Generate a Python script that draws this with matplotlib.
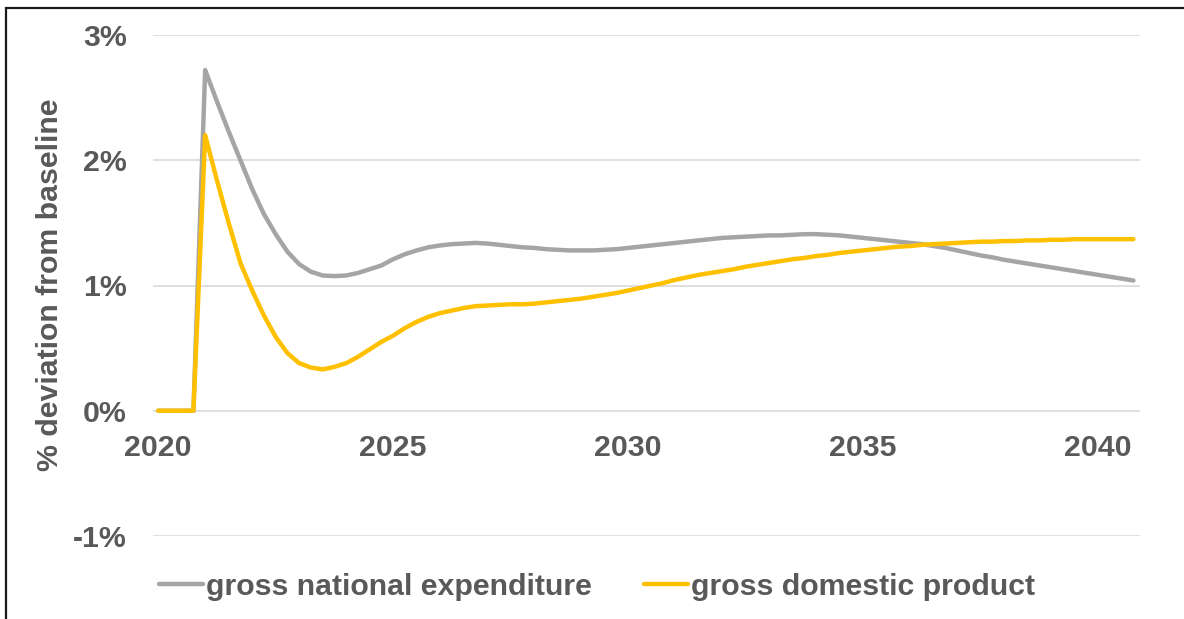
import numpy as np
import matplotlib
matplotlib.use("Agg")
import matplotlib.pyplot as plt
from matplotlib.patches import Rectangle
from matplotlib.ticker import FuncFormatter

# quarterly observations, 2020Q1 .. 2040Q4
start_year = 2020
gne = [
    0.00, 0.00, 0.00, 0.00,
    2.72, 2.47, 2.23, 2.00,
    1.77, 1.57, 1.41, 1.27,
    1.17, 1.11, 1.08, 1.075,
    1.08, 1.10, 1.13, 1.16,
    1.21, 1.25, 1.28, 1.305,
    1.32, 1.33, 1.335, 1.34,
    1.335, 1.325, 1.315, 1.305,
    1.30, 1.29, 1.285, 1.28,
    1.28, 1.28, 1.285, 1.29,
    1.30, 1.31, 1.32, 1.33,
    1.34, 1.35, 1.36, 1.37,
    1.38, 1.385, 1.39, 1.395,
    1.40, 1.40, 1.405, 1.41,
    1.41, 1.405, 1.40, 1.39,
    1.38, 1.37, 1.36, 1.35,
    1.34, 1.33, 1.315, 1.30,
    1.28, 1.26, 1.24, 1.225,
    1.205, 1.19, 1.175, 1.16,
    1.145, 1.13, 1.115, 1.10,
    1.085, 1.07, 1.055, 1.04,
]
gdp = [
    0.00, 0.00, 0.00, 0.00,
    2.20, 1.84, 1.50, 1.18,
    0.96, 0.76, 0.59, 0.46,
    0.38, 0.345, 0.33, 0.35,
    0.38, 0.43, 0.49, 0.55,
    0.60, 0.66, 0.71, 0.75,
    0.78, 0.80, 0.82, 0.835,
    0.84, 0.845, 0.85, 0.85,
    0.855, 0.865, 0.875, 0.885,
    0.895, 0.91, 0.925, 0.94,
    0.96, 0.98, 1.00, 1.02,
    1.045, 1.065, 1.085, 1.10,
    1.115, 1.13, 1.15, 1.165,
    1.18, 1.195, 1.21, 1.22,
    1.235, 1.245, 1.26, 1.27,
    1.28, 1.29, 1.30, 1.31,
    1.315, 1.325, 1.33, 1.335,
    1.34, 1.345, 1.35, 1.35,
    1.355, 1.355, 1.36, 1.36,
    1.365, 1.365, 1.37, 1.37,
    1.37, 1.37, 1.37, 1.37,
]
x_ticks = [2020, 2025, 2030, 2035, 2040]
y_ticks = [-1, 0, 1, 2, 3]
series_names = ["gross national expenditure", "gross domestic product"]

TEXT = "#595959"
GRIS = "#A5A5A5"
AMARILLO = "#FFC000"
FS = 21.8

plt.rcParams["font.family"] = ["Liberation Sans", "DejaVu Sans"]
plt.rcParams["font.weight"] = "bold"

years = start_year + np.arange(len(gne)) / 4.0

W, H = 1184, 619
fig = plt.figure(figsize=(W / 100, H / 100), dpi=100)
ax = fig.add_axes([153 / W, 1 - 536 / H, 987 / W, 501 / H])

ax.plot(years, gne, color=GRIS, lw=3.2, solid_capstyle="round",
        solid_joinstyle="round", label=series_names[0], zorder=3)
ax.plot(years, gdp, color=AMARILLO, lw=3.2, solid_capstyle="round",
        solid_joinstyle="round", label=series_names[1], zorder=4)

ax.set_xlim(2019.89, 2040.89)
ax.set_ylim(-1, 3)
ax.set_yticks(y_ticks)
ax.yaxis.set_major_formatter(FuncFormatter(lambda v, p: f"{v:.0f}%"))
ax.set_xticks(x_ticks)
ax.grid(axis="y", color="#D9D9D9", lw=1.2, zorder=0)
ax.grid(axis="x", visible=False)

for s in ["top", "right", "left"]:
    ax.spines[s].set_visible(False)
ax.spines["bottom"].set_position(("data", 0))
ax.spines["bottom"].set_visible(False)
ax.tick_params(axis="both", length=0, labelsize=FS, labelcolor=TEXT)
ax.tick_params(axis="y", pad=19)
ax.tick_params(axis="x", pad=17)
for t in ax.get_xticklabels() + ax.get_yticklabels():
    t.set_fontweight("bold")

ax.set_ylabel("% deviation from baseline", fontsize=FS, color=TEXT,
              fontweight="bold")
ax.yaxis.set_label_coords(-89 / 987, (536 - 285) / 501)

leg = fig.legend(loc="center", bbox_to_anchor=(597 / W, 1 - 587 / H), ncol=2,
                 frameon=False, fontsize=FS, handlelength=1.45,
                 handletextpad=0.08, columnspacing=1.75)
for t in leg.get_texts():
    t.set_color(TEXT)
    t.set_fontweight("bold")

# marco del gráfico (solo se ven los bordes superior e izquierdo)
fig.add_artist(Rectangle((6 / W, -0.2), 1.2, 1.2 - 8 / H, transform=fig.transFigure,
                         fill=False, edgecolor="#1a1a1a", lw=1.6))

fig.savefig("out.png", dpi=100, facecolor="white")
